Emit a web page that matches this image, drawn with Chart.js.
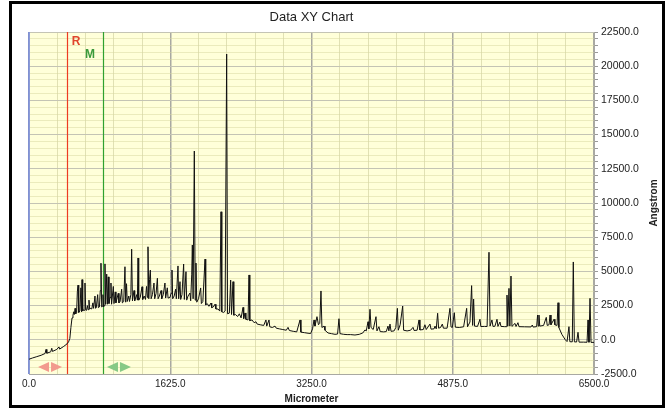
<!DOCTYPE html>
<html>
<head>
<meta charset="utf-8">
<script src="https://cdn.jsdelivr.net/npm/chart.js@4.4.0/dist/chart.umd.min.js"></script>
<style>
  body { margin: 0; background: #fff; }
  canvas { display: block; }
</style>
</head>
<body>
<canvas id="graph" width="670" height="409"></canvas>
<script>
// profile: position (micrometer) / height (angstrom)
var micrometer = [
  0, 40, 90, 140, 185, 196, 205, 250, 262, 270, 320, 345, 352, 400, 437, 455, 470, 482, 495, 506,
  515, 522, 530, 538, 548, 556, 564, 572, 585, 597, 604, 610, 618, 628, 636, 644, 652, 662, 672, 680,
  690, 698, 712, 722, 735, 743, 759, 766, 774, 790, 798, 810, 820, 828, 836, 846, 851, 858, 866, 874,
  882, 894, 902, 912, 920, 932, 943, 950, 970, 978, 992, 1000, 1027, 1035, 1048, 1066, 1074, 1090, 1104, 1112,
  1122, 1130, 1148, 1156, 1172, 1181, 1190, 1208, 1216, 1239, 1247, 1254, 1262, 1280, 1300, 1308, 1325, 1340, 1352, 1362,
  1369, 1378, 1387, 1396, 1405, 1420, 1438, 1446, 1462, 1477, 1485, 1500, 1519, 1527, 1545, 1564, 1572, 1591, 1600, 1622,
  1635, 1645, 1653, 1670, 1687, 1695, 1714, 1722, 1737, 1745, 1760, 1779, 1787, 1806, 1814, 1830, 1852, 1860, 1872, 1879,
  1888, 1902, 1912, 1921, 1930, 1950, 1975, 1983, 2000, 2025, 2033, 2050, 2070, 2094, 2102, 2120, 2140, 2150, 2175, 2195,
  2209, 2218, 2240, 2256, 2274, 2284, 2305, 2320, 2330, 2347, 2356, 2375, 2400, 2420, 2440, 2462, 2470, 2485, 2495, 2520,
  2531, 2540, 2565, 2590, 2611, 2625, 2660, 2700, 2726, 2735, 2761, 2770, 2800, 2830, 2845, 2880, 2920, 2960, 2980, 2995,
  3040, 3080, 3118, 3128, 3170, 3210, 3240, 3262, 3279, 3290, 3313, 3330, 3345, 3359, 3370, 3394, 3405, 3440, 3480, 3520,
  3550, 3566, 3578, 3620, 3660, 3700, 3750, 3800, 3840, 3865, 3880, 3900, 3910, 3923, 3935, 3960, 3992, 4003, 4026, 4040,
  4080, 4110, 4130, 4140, 4153, 4165, 4200, 4220, 4238, 4248, 4270, 4299, 4310, 4350, 4390, 4418, 4430, 4465, 4487, 4497,
  4536, 4555, 4570, 4613, 4625, 4660, 4671, 4685, 4701, 4712, 4735, 4755, 4768, 4810, 4843, 4855, 4870, 4893, 4905, 4950,
  5000, 5035, 5045, 5073, 5092, 5104, 5115, 5126, 5160, 5188, 5198, 5240, 5270, 5292, 5304, 5326, 5338, 5360, 5384, 5395,
  5418, 5430, 5470, 5490, 5499, 5508, 5522, 5532, 5545, 5556, 5591, 5603, 5625, 5637, 5700, 5775, 5790, 5800, 5840, 5851,
  5859, 5867, 5876, 5920, 5951, 5962, 5983, 5994, 6005, 6040, 6050, 6075, 6086, 6096, 6130, 6170, 6190, 6212, 6222, 6250,
  6262, 6274, 6300, 6316, 6328, 6380, 6420, 6431, 6442, 6454, 6466, 6500
];
var angstrom = [
  -1420, -1330, -1230, -1130, -1000, -700, -980, -880, -620, -850, -700, -520, -680, -480, -300, -150, 100, 900, 1600, 1800,
  2050, 1850, 2300, 1900, 2000, 3500, 4000, 2000, 2100, 3800, 2050, 4400, 2100, 2200, 2150, 4150, 2200, 2150, 2500, 2200,
  2900, 2250, 2300, 2250, 2700, 2300, 3200, 2300, 2350, 3300, 2350, 2400, 3600, 5600, 2400, 2450, 3300, 2400, 2500, 5550,
  2600, 4800, 2600, 4600, 2650, 3100, 4150, 2600, 3900, 2650, 3500, 2700, 3400, 2700, 2800, 3700, 2700, 2800, 5340, 2750,
  4100, 2800, 3200, 2800, 3300, 6620, 2850, 3600, 2850, 3300, 2900, 5980, 2900, 3100, 3880, 2950, 3200, 2950, 3900, 3100,
  6800, 3000, 4400, 5100, 3000, 3300, 4150, 3000, 3400, 4500, 3000, 3200, 3600, 3000, 3300, 4150, 3050, 3800, 3050, 3100,
  3400, 5100, 3000, 3200, 3700, 3000, 5400, 3000, 4250, 2950, 3300, 5540, 2950, 4980, 2900, 3200, 3420, 2850, 4800, 6930,
  3000, 13800, 2900, 5610, 2750, 3000, 3790, 2650, 2800, 5900, 2550, 2650, 2450, 2690, 2350, 2400, 2600, 2250, 2250, 2100,
  9360, 2050, 2000, 2100, 20890, 1900, 1950, 4370, 1850, 4250, 1800, 1850, 1700, 1900, 1600, 2370, 1550, 1960, 1500, 1450,
  4740, 1400, 1450, 1250, 1320, 1150, 1100, 1050, 1450, 1000, 1450, 950, 900, 1000, 850, 800, 750, 700, 910, 680,
  620, 580, 1450, 560, 520, 480, 460, 800, 1450, 1000, 1690, 1100, 1200, 3570, 900, 1000, 700, 500, 450, 400,
  420, 1540, 450, 400, 380, 380, 350, 400, 500, 720, 650, 1320, 800, 2230, 900, 750, 1690, 650, 960, 600,
  580, 600, 1000, 650, 1150, 620, 650, 900, 2300, 700, 1100, 2470, 700, 650, 700, 910, 680, 700, 1450, 720,
  750, 1100, 750, 1150, 780, 800, 1000, 800, 1940, 850, 900, 1150, 850, 850, 2300, 950, 900, 1980, 920, 900,
  950, 2300, 950, 1300, 3960, 1050, 2980, 1000, 980, 1500, 970, 980, 970, 6400, 1000, 1450, 980, 990, 1500, 980,
  1300, 980, 960, 960, 3270, 1000, 3760, 1000, 4660, 980, 1200, 970, 1250, 960, 950, 940, 1080, 930, 960, 1810,
  1000, 1810, 1000, 1050, 1640, 1050, 1100, 1810, 1100, 1500, 1100, 1050, 2710, 900, 400, 0, -130, 960, -140, -150,
  5690, -150, -160, 550, -170, -170, -180, 1450, -180, 3030, -190, -190
];

// axis ranges and ticks
var xMin = 0, xMax = 6500, xMajor = 1625, xMinor = 325;
var yMin = -2500, yMax = 22500, yMajor = 2500, yMinor = 500;

// R / M cursors and their handles
var cursorLabels = ['R', 'M'];
var cursorAt = [437, 851];
var handleAt = [242, 1035];

var cursorPlugin = {
  id: 'cursors',
  beforeDraw: function(chart) {
    var c = chart.ctx, a = chart.chartArea;
    c.save();
    c.fillStyle = '#ffffff';
    c.fillRect(0, 0, chart.width, chart.height);
    c.fillStyle = '#ffffd9';
    c.fillRect(a.left, a.top, a.right - a.left, a.bottom - a.top);
    c.restore();
  },
  beforeDatasetsDraw: function(chart) {
    var c = chart.ctx, a = chart.chartArea, xs = chart.scales.x;
    var colors = ['#ee3b22', '#2fa12f'];
    c.save();
    c.lineWidth = 1.2;
    for (var i = 0; i < cursorAt.length; i++) {
      var px = Math.round(xs.getPixelForValue(cursorAt[i])) + 0.5;
      c.strokeStyle = colors[i];
      c.beginPath();
      c.moveTo(px, a.top);
      c.lineTo(px, a.bottom);
      c.stroke();
    }
    // left edge
    c.strokeStyle = '#7389e0';
    c.lineWidth = 1.5;
    c.beginPath();
    c.moveTo(a.left, a.top);
    c.lineTo(a.left, a.bottom);
    c.stroke();
    c.restore();
  },
  afterDraw: function(chart) {
    var c = chart.ctx, a = chart.chartArea, xs = chart.scales.x;
    c.save();
    // cursor letters
    var textColors = ['#e0452e', '#3a9a3a'];
    var dx = [9, -13], ty = [42, 55];
    c.font = 'bold 12px "Liberation Sans", Arial';
    c.textAlign = 'center';
    c.textBaseline = 'middle';
    for (var i = 0; i < cursorAt.length; i++) {
      c.fillStyle = textColors[i];
      c.fillText(cursorLabels[i], xs.getPixelForValue(cursorAt[i]) + dx[i], ty[i]);
    }
    // drag handles
    var handleColors = ['#f29a8e', '#86c986'];
    for (var j = 0; j < handleAt.length; j++) {
      var cx = xs.getPixelForValue(handleAt[j]), cy = a.bottom - 7;
      c.fillStyle = handleColors[j];
      c.beginPath();
      c.moveTo(cx - 12, cy); c.lineTo(cx - 1, cy - 5); c.lineTo(cx - 1, cy + 5); c.closePath();
      c.moveTo(cx + 12, cy); c.lineTo(cx + 1, cy - 5); c.lineTo(cx + 1, cy + 5); c.closePath();
      c.fill();
    }
    // title
    c.fillStyle = '#222';
    c.font = '13px "Liberation Sans", Arial';
    c.fillText('Data XY Chart', (a.left + a.right) / 2, 17);
    // y axis title, reads bottom to top
    c.font = 'bold 10px "Liberation Sans", Arial';
    c.translate(654, (a.top + a.bottom) / 2);
    c.rotate(-Math.PI / 2);
    c.fillText('Angstrom', 0, 0);
    c.setTransform(1, 0, 0, 1, 0, 0);
    // outer frame
    c.strokeStyle = '#000';
    c.lineWidth = 3;
    c.strokeRect(10.5, 2.5, 653, 404);
    c.restore();
  }
};

var drawGraph = function() {
  var ctx = document.getElementById('graph').getContext('2d');
  Chart.defaults.font.family = '"Liberation Sans", Arial, sans-serif';
  Chart.defaults.color = '#222';

  var points = micrometer.map(function(x, i) { return { x: x, y: angstrom[i] }; });

  var config = {
    type: 'scatter',
    data: {
      datasets: [{
        data: points,
        showLine: true,
        borderColor: '#111',
        borderWidth: 1,
        pointRadius: 0,
        tension: 0
      }]
    },
    options: {
      responsive: false,
      animation: false,
      layout: { padding: { left: 29, right: 0, top: 32, bottom: 0 } },
      plugins: { legend: { display: false }, tooltip: { enabled: false }, title: { display: false } },
      scales: {
        x: {
          type: 'linear',
          min: xMin, max: xMax,
          afterFit: function(s) { s.height = 35; },
          ticks: {
            stepSize: xMinor, autoSkip: false, maxRotation: 0, padding: 4, maxTicksLimit: 100,
            font: { size: 10 },
            callback: function(v) { return v % xMajor === 0 ? v.toFixed(1) : ''; }
          },
          grid: {
            drawTicks: false,
            color: function(c) { return c.tick.value % xMajor === 0 ? '#a9a9a2' : 'rgba(200,200,150,0.55)'; },
            lineWidth: function(c) { return c.tick.value % xMajor === 0 ? 1.5 : 1; }
          },
          border: { color: '#a9a9a2', width: 1 },
          title: { display: true, text: 'Micrometer', font: { size: 10, weight: 'bold' }, padding: { top: 0, bottom: 4 } }
        },
        y: {
          type: 'linear',
          position: 'right',
          min: yMin, max: yMax,
          afterFit: function(s) { s.width = 76; },
          ticks: {
            stepSize: yMinor, autoSkip: false, padding: 3, maxTicksLimit: 100,
            font: { size: 10.5 },
            callback: function(v) { return v % yMajor === 0 ? v.toFixed(1) : ''; }
          },
          grid: {
            tickLength: 4,
            color: function(c) { return c.tick.value % yMajor === 0 ? '#c4c4b4' : 'rgba(215,215,160,0.5)'; },
            tickColor: '#999'
          },
          border: { color: '#a9a9a2', width: 1 }
        }
      }
    },
    plugins: [cursorPlugin]
  };
  var myChart = new Chart(ctx, config);
};

window.onload = function() {
  drawGraph();
};
</script>
</body>
</html>
